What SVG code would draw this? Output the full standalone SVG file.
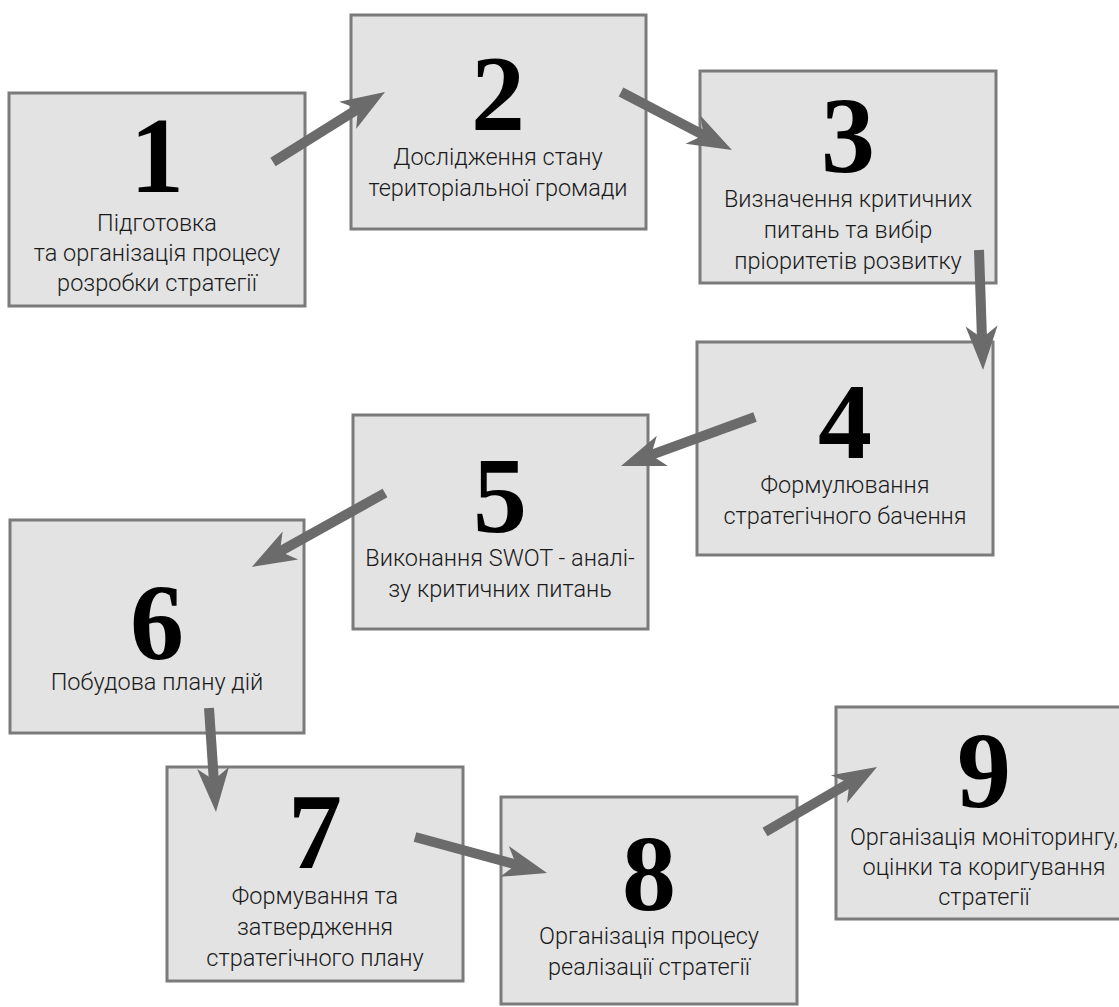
<svg xmlns="http://www.w3.org/2000/svg" width="1119" height="1007" viewBox="0 0 1119 1007">
<style>
.box{fill:#e3e3e3;stroke:#7b7b7b;stroke-width:3}
.num{font-family:"Liberation Serif",serif;font-weight:bold;font-size:108px;fill:#000;text-anchor:middle}
.lbl{font-family:Roboto,"Noto Sans",sans-serif;font-weight:300;font-size:23.5px;fill:#1a1a1a;text-anchor:middle}
.arr{stroke:#6b6b6b;stroke-width:10;fill:none;marker-end:url(#head)}
</style>
<defs>
<marker id="head" markerUnits="userSpaceOnUse" markerWidth="44" markerHeight="32" viewBox="0 0 44 32" refX="19" refY="16" orient="auto" overflow="visible">
<path d="M0,0 L44,16 L0,32 L12,16 Z" fill="#6b6b6b"/>
</marker>
</defs>
<rect width="1119" height="1007" fill="#ffffff"/>
<g id="node1"><rect class="box" x="9" y="93" width="296" height="213"/>
<text class="num" x="157" y="192">1</text>
<text class="lbl" x="157" y="231">Підготовка</text>
<text class="lbl" x="157" y="261">та організація процесу</text>
<text class="lbl" x="157" y="291">розробки стратегії</text></g>
<g id="node2"><rect class="box" x="351" y="15" width="295" height="214"/>
<text class="num" x="498" y="130">2</text>
<text class="lbl" x="498" y="165">Дослідження стану</text>
<text class="lbl" x="498" y="196">територіальної громади</text></g>
<g id="node3"><rect class="box" x="700" y="71" width="296" height="212"/>
<text class="num" x="848" y="172">3</text>
<text class="lbl" x="848" y="207">Визначення критичних</text>
<text class="lbl" x="848" y="238">питань та вибір</text>
<text class="lbl" x="848" y="269">пріоритетів розвитку</text></g>
<g id="node4"><rect class="box" x="697" y="342" width="296" height="213"/>
<text class="num" x="845" y="458">4</text>
<text class="lbl" x="845" y="493">Формулювання</text>
<text class="lbl" x="845" y="524">стратегічного бачення</text></g>
<g id="node5"><rect class="box" x="353" y="415" width="295" height="214"/>
<text class="num" x="500" y="532">5</text>
<text class="lbl" x="500" y="566">Виконання SWOT - аналі-</text>
<text class="lbl" x="500" y="597">зу критичних питань</text></g>
<g id="node6"><rect class="box" x="10" y="520" width="294" height="213"/>
<text class="num" x="157" y="659">6</text>
<text class="lbl" x="157" y="690">Побудова плану дій</text></g>
<g id="node7"><rect class="box" x="167" y="767" width="296" height="214"/>
<text class="num" x="315" y="868">7</text>
<text class="lbl" x="315" y="904">Формування та</text>
<text class="lbl" x="315" y="935">затвердження</text>
<text class="lbl" x="315" y="966">стратегічного плану</text></g>
<g id="node8"><rect class="box" x="501" y="797" width="296" height="207"/>
<text class="num" x="649" y="910">8</text>
<text class="lbl" x="649" y="944">Організація процесу</text>
<text class="lbl" x="649" y="975">реалізації стратегії</text></g>
<g id="node9"><rect class="box" x="836" y="707" width="296" height="212"/>
<text class="num" x="984" y="807">9</text>
<text class="lbl" x="984" y="845">Організація моніторингу,</text>
<text class="lbl" x="984" y="875">оцінки та коригування</text>
<text class="lbl" x="984" y="905">стратегії</text></g>
<g id="connectors">
<line class="arr" x1="273" y1="162" x2="363.8" y2="105.3"/>
<line class="arr" x1="621" y1="92" x2="709.8" y2="138.4"/>
<line class="arr" x1="979" y1="250" x2="982.2" y2="345"/>
<line class="arr" x1="755" y1="417" x2="644.5" y2="457.4"/>
<line class="arr" x1="385" y1="493" x2="273.8" y2="554.8"/>
<line class="arr" x1="209" y1="708" x2="214.3" y2="787"/>
<line class="arr" x1="415" y1="837" x2="522.9" y2="866.4"/>
<line class="arr" x1="765" y1="832" x2="855.4" y2="779.5"/>
</g>
</svg>
